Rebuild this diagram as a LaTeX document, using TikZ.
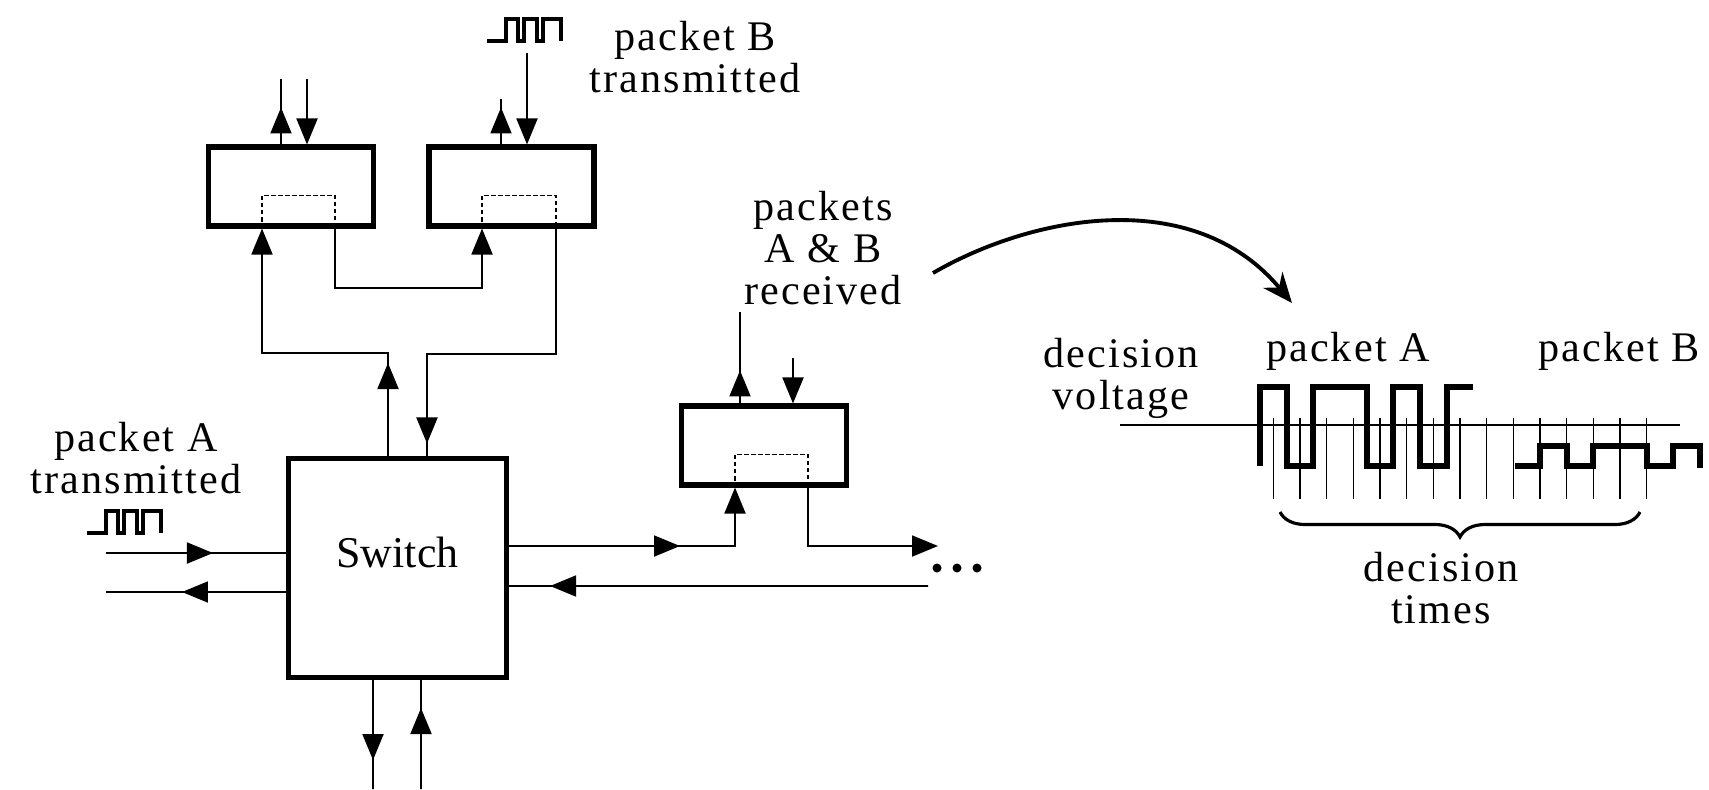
\documentclass[tikz,border=0pt]{standalone}
\usepackage{fontspec}
\setmainfont{Liberation Serif}
\newfontfamily\lbl[LetterSpace=5]{Liberation Serif}
\usetikzlibrary{arrows.meta, decorations.markings, decorations.pathreplacing}

\tikzstyle{buffer} = [rectangle, minimum width=3.3cm, minimum height=1.58cm, draw=black, line width=2.9pt]
\tikzstyle{switchbox} = [rectangle, minimum width=4.36cm, minimum height=4.38cm, draw=black, line width=2.9pt]
\tikzstyle{txt} = [align=center, inner sep=0pt, font=\fontsize{24pt}{24pt}\lbl]
\tikzstyle{wire} = [line width=1.1pt]
\tikzstyle{arrow} = [wire, -{Triangle[length=0.52cm, width=0.42cm]}]
\tikzstyle{slot} = [line width=0.7pt, dash pattern=on 2.5pt off 1.5pt]
\tikzstyle{signal} = [line width=3.4pt]
\tikzstyle{tick} = [line width=0.8pt]
\tikzset{midarrow/.style={wire, postaction={decorate}, decoration={markings, mark=at position #1 with {\arrow{Triangle[length=0.52cm, width=0.42cm]}}}}}
\tikzset{pulse/.pic={\draw[line width=2pt] (0,0) -- (19,0) -- (19,-22) -- (31,-22) -- (31,0) -- (37,0) -- (37,-22) -- (50,-22) -- (50,0) -- (56,0) -- (56,-22) -- (74,-22) -- (74,0);}}

\begin{document}
\begin{tikzpicture}[x=0.02cm, y=-0.02cm]
    \useasboundingbox (0,0) rectangle (1709,789);

    %nodes
    \node (box1) [buffer] at (291,186.5) {};
    \node (box2) [buffer] at (511.5,186.5) {};
    \node (box3) [buffer] at (764,445.5) {};
    \node (switch) [switchbox] at (397.5,568) {};
    \node (swlabel) [font=\fontsize{25pt}{25pt}\selectfont] at ([yshift=0.32cm]switch.center) {Switch};

    \node (txB) [txt] at (695,57) {packet B\\transmitted};
    \node (txA) [txt] at (136,458) {packet A\\transmitted};
    \node (rcvd) [txt] at (823,248) {packets\\A \& B\\received};
    \node (dv) [txt] at (1121,378) {decision\\voltage};
    \node (pa) [txt] at (1348,351) {packet A};
    \node (pb) [txt] at (1619,351) {packet B};
    \node (dt) [txt] at (1441,588) {decision\\times};

    \pic at (487,41) {pulse};
    \pic at (87,533) {pulse};

    %free ends
    \coordinate (b1up) at (281,79);
    \coordinate (b1dn) at (307,79);
    \coordinate (b2up) at (501,99);
    \coordinate (b2dn) at (527,53);
    \coordinate (b3up) at (740,312);
    \coordinate (b3dn) at (793,358);
    \coordinate (inL) at (106,553);
    \coordinate (outL) at (106,592);
    \coordinate (dnB) at (373,789);
    \coordinate (upB) at (421,789);
    \coordinate (outR) at (938,546);
    \coordinate (inR) at (928,586);
    \coordinate (cs) at (933,273);
    \coordinate (ce) at (1292,303);

    %slots
    \draw[slot] ([xshift=-0.58cm]box1.south) -- ++(0,-33) -| ([xshift=0.88cm]box1.south);
    \draw[slot] ([xshift=-0.59cm]box2.south) -- ++(0,-33) -| ([xshift=0.89cm]box2.south);
    \draw[slot] ([xshift=-0.58cm]box3.south) -- ++(0,-33) -| ([xshift=0.88cm]box3.south);

    %arrows
    \draw[midarrow=0.74cm] ([xshift=-0.2cm]box1.north) -- (b1up);
    \draw[arrow] (b1dn) -- ([xshift=0.32cm]box1.north);
    \draw[midarrow=0.74cm] ([xshift=-0.21cm]box2.north) -- (b2up);
    \draw[arrow] (b2dn) -- ([xshift=0.31cm]box2.north);
    \draw[midarrow=0.66cm] ([xshift=-0.48cm]box3.north) -- (b3up);
    \draw[arrow] (b3dn) -- ([xshift=0.58cm]box3.north);

    \draw[arrow, midarrow=1.86cm] ([xshift=-0.19cm]switch.north) -- ++(0,-103) -| ([xshift=-0.58cm]box1.south);
    \draw[arrow] ([xshift=0.88cm]box1.south) -- ++(0,59) -| ([xshift=-0.59cm]box2.south);
    \draw[midarrow=6.88cm] ([xshift=0.89cm]box2.south) -- ++(0,125) -| ([xshift=0.59cm]switch.north);

    \draw[midarrow=2.14cm] (inL) -- ([yshift=0.3cm]switch.west);
    \draw[midarrow=2.08cm] ([yshift=-0.48cm]switch.west) -- (outL);
    \draw[midarrow=1.6cm] ([xshift=-0.49cm]switch.south) -- (dnB);
    \draw[midarrow=1.62cm] (upB) -- ([xshift=0.47cm]switch.south);

    \draw[arrow, midarrow=3.42cm] ([yshift=0.44cm]switch.east) -| ([xshift=-0.58cm]box3.south);
    \draw[arrow] ([xshift=0.88cm]box3.south) |- (outR);
    \draw[midarrow=7.56cm] (inR) -- ([yshift=-0.36cm]switch.east);
    \foreach \d in {937,957,977} \fill (\d,568) circle (0.09cm);

    \draw[line width=2.2pt, -{Stealth[length=0.6cm, width=0.5cm]}] (cs) .. controls (1031,216) and (1193,184) .. (ce);

    %waveforms
    \draw[wire] (1120,425) -- (1680,425);
    \foreach \k in {0,...,14} \draw[tick] (1273.3+26.67*\k,418) -- ++(0,81);
    \draw[signal] (1260,466) -- (1260,387) -- (1286.7,387) -- (1286.7,466) -- (1313.3,466) -- (1313.3,387) -- (1366.7,387) -- (1366.7,466) -- (1393.3,466) -- (1393.3,387) -- (1420,387) -- (1420,466) -- (1446.7,466) -- (1446.7,387) -- (1473.3,387);
    \draw[signal] (1515,466) -- (1540,466) -- (1540,446) -- (1566.7,446) -- (1566.7,466) -- (1593.3,466) -- (1593.3,446) -- (1646.7,446) -- (1646.7,466) -- (1673.3,466) -- (1673.3,446) -- (1700,446) -- (1700,468);
    \draw[line width=1.8pt, decorate, decoration={brace, mirror, amplitude=0.5cm}] (1280,512) -- (1640,512);

\end{tikzpicture}
\end{document}
